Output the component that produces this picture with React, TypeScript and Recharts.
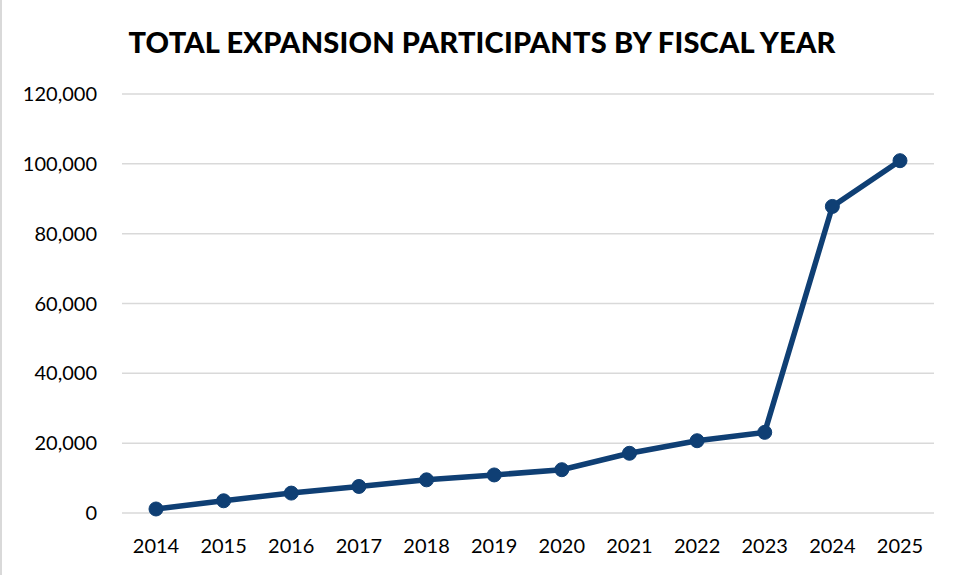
import { LineChart, Line, XAxis, YAxis, CartesianGrid } from 'recharts';

const years = ['2014', '2015', '2016', '2017', '2018', '2019', '2020', '2021', '2022', '2023', '2024', '2025'];
const participants = [1150, 3500, 5700, 7600, 9500, 10900, 12400, 17100, 20700, 23100, 87800, 100900];
const yTicks = [0, 20000, 40000, 60000, 80000, 100000, 120000];

const data = years.map((year, i) => ({ year, participants: participants[i] }));

const fontFamily = 'Lato, "Noto Sans", sans-serif';

export default function App() {
  return (
    <div
      style={{
        position: 'absolute',
        left: 0,
        top: 0,
        width: 960,
        height: 575,
        background: '#fff',
        boxSizing: 'border-box',
        borderLeft: '2px solid #d9d9d9',
        fontFamily,
      }}
    >
      <div
        style={{
          position: 'absolute',
          top: 24,
          left: 0,
          width: 960,
          textAlign: 'center',
          fontSize: 29,
          fontWeight: 900,
          color: '#000',
          letterSpacing: 0.2,
        }}
      >
        TOTAL EXPANSION PARTICIPANTS BY FISCAL YEAR
      </div>
      <LineChart width={960} height={575} data={data} margin={{ top: 94, right: 28, left: 0, bottom: 0 }}>
        <CartesianGrid vertical={false} stroke="#d9d9d9" strokeWidth={1.5} />
        <XAxis
          dataKey="year"
          axisLine={false}
          tickLine={false}
          height={62}
          tickMargin={20}
          padding={{ left: 34, right: 34 }}
          tick={{ fontSize: 20, fill: '#000', fontFamily }}
        />
        <YAxis
          domain={[0, 120000]}
          ticks={yTicks}
          axisLine={false}
          tickLine={false}
          width={120}
          tickMargin={19}
          tickFormatter={(v: number) => v.toLocaleString('en-US')}
          tick={{ fontSize: 20, fill: '#000', fontFamily }}
        />
        <Line
          dataKey="participants"
          stroke="#0f3f74"
          strokeWidth={5.5}
          dot={{ r: 7, fill: '#0f3f74', stroke: '#0f3f74', strokeWidth: 1 }}
          isAnimationActive={false}
        />
      </LineChart>
    </div>
  );
}
